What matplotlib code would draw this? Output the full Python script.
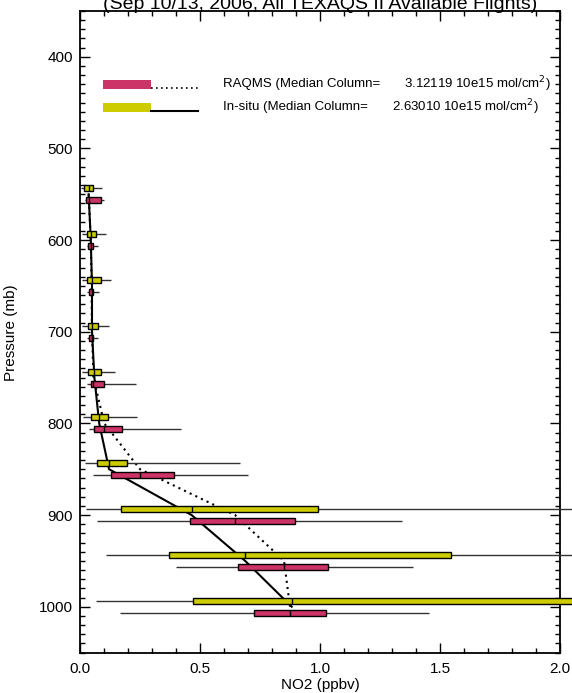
#!/usr/bin/env python3
# -*- coding: utf-8 -*-
"""
NO2 profile: RAQMS vs in-situ box/whisker statistics per pressure level
"""

import numpy as np
import matplotlib
matplotlib.use("Agg")
import matplotlib.pyplot as plt
from matplotlib.ticker import MultipleLocator, FormatStrFormatter

plt.rcParams['font.family'] = ['Liberation Sans', 'DejaVu Sans']

# pressure levels (mb)
levels = [550, 600, 650, 700, 750, 800, 850, 900, 950, 1000]

# in-situ stats (ppbv): lower whisker, q1, median, q3, upper whisker
insitu_lo  = [0.003, 0.007, 0.007, 0.007, 0.007, 0.014, 0.021, 0.025, 0.108, 0.067]
insitu_q1  = [0.017, 0.028, 0.030, 0.032, 0.035, 0.045, 0.072, 0.170, 0.372, 0.470]
insitu_med = [0.036, 0.045, 0.050, 0.050, 0.060, 0.080, 0.121, 0.465, 0.688, 0.882]
insitu_q3  = [0.056, 0.067, 0.086, 0.076, 0.086, 0.118, 0.194, 0.990, 1.546, 2.300]
insitu_hi  = [0.090, 0.108, 0.130, 0.121, 0.146, 0.236, 0.667, 2.300, 2.300, 2.600]

# RAQMS stats (ppbv)
raqms_lo  = [0.020, 0.028, 0.028, 0.028, 0.030, 0.037, 0.053, 0.072, 0.400, 0.167]
raqms_q1  = [0.025, 0.035, 0.036, 0.039, 0.044, 0.058, 0.128, 0.458, 0.658, 0.725]
raqms_med = [0.036, 0.045, 0.048, 0.050, 0.056, 0.101, 0.250, 0.646, 0.850, 0.875]
raqms_q3  = [0.087, 0.055, 0.055, 0.055, 0.101, 0.176, 0.393, 0.896, 1.032, 1.025]
raqms_hi  = [0.100, 0.076, 0.080, 0.076, 0.233, 0.420, 0.701, 1.340, 1.389, 1.454]

raqms_column = "3.12119"
insitu_column = "2.63010"

PINK = '#CC3366'
YELLOW = '#CCCC00'
BOX_H = 6.5      # box height in mb
OFFSET = 6.5     # vertical shift of each box from its level


def draw_boxes(ax, p, lo, q1, med, q3, hi, color):
    p = np.asarray(p, dtype=float)
    ax.hlines(p, lo, hi, colors='#333333', linewidth=1.0, zorder=3, clip_on=False)
    ax.barh(p, np.asarray(q3) - np.asarray(q1), left=q1, height=BOX_H,
            color=color, edgecolor='black', linewidth=1.0, zorder=4, clip_on=False)
    ax.vlines(med, p - BOX_H / 2, p + BOX_H / 2, colors='black', linewidth=1.0,
              zorder=5, clip_on=False)


def main():
    fig = plt.figure(figsize=(5.72, 6.93), dpi=100)
    ax = fig.add_axes([80 / 572, 1 - 652.5 / 693, 480 / 572, 641.5 / 693])

    # median profiles (drawn under the boxes)
    ax.plot(insitu_med, levels, color='black', linewidth=1.5, zorder=2)
    ax.plot(raqms_med, levels, color='black', linewidth=1.5, linestyle=(0, (1, 2)), zorder=2)

    lev = np.asarray(levels, dtype=float)
    draw_boxes(ax, lev - OFFSET, insitu_lo, insitu_q1, insitu_med, insitu_q3, insitu_hi, YELLOW)
    draw_boxes(ax, lev + OFFSET, raqms_lo, raqms_q1, raqms_med, raqms_q3, raqms_hi, PINK)

    ax.set_xlim(0, 2.0)
    ax.set_ylim(1050, 350)
    ax.xaxis.set_major_locator(MultipleLocator(0.5))
    ax.xaxis.set_minor_locator(MultipleLocator(0.1))
    ax.xaxis.set_major_formatter(FormatStrFormatter('%.1f'))
    ax.yaxis.set_major_locator(MultipleLocator(100))
    ax.yaxis.set_minor_locator(MultipleLocator(10))
    ax.tick_params(which='both', direction='in', top=True, right=True, width=1.0)
    ax.tick_params(which='major', length=7.5, labelsize=11)
    ax.tick_params(axis='x', which='major', pad=7)
    ax.tick_params(axis='y', which='major', pad=5)
    ax.tick_params(which='minor', length=3.8)
    for sp in ax.spines.values():
        sp.set_linewidth(1.3)

    # legend, drawn by hand in axes fraction
    tr = ax.transAxes
    rows = [(0.886, PINK, (0, (1, 2)), "RAQMS (Median Column=", raqms_column, 0.675),
            (0.850, YELLOW, '-', "In-situ (Median Column=", insitu_column, 0.650)]
    for y, col, ls, label, val, xv in rows:
        ax.add_patch(plt.Rectangle((0.048, y - 0.007), 0.100, 0.014, transform=tr,
                                   facecolor=col, edgecolor='none', zorder=6))
        ax.plot([0.148, 0.246], [y - 0.006, y - 0.006], transform=tr, color='black',
                linewidth=1.5 if ls == '-' else 1.2, linestyle=ls, zorder=6)
        ax.text(0.298, y, label, transform=tr, fontsize=9.5, va='center', ha='left')
        ax.text(xv, y, val + " 10e15 mol/cm$^2$)", transform=tr, fontsize=9.5,
                va='center', ha='left')

    fig.text(320 / 572, 1 - 685 / 693, "NO2 (ppbv)", fontsize=11, ha='center', va='center')
    fig.text(11 / 572, 1 - 333 / 693, "Pressure (mb)", rotation=90, fontsize=11,
             ha='center', va='center')
    fig.text(320 / 572, 1 - 9 / 693, "(Sep 10/13, 2006, All TEXAQS II Available Flights)",
             fontsize=14, ha='center', va='baseline')

    fig.savefig("out.png", dpi=100)


if __name__ == "__main__":
    main()
